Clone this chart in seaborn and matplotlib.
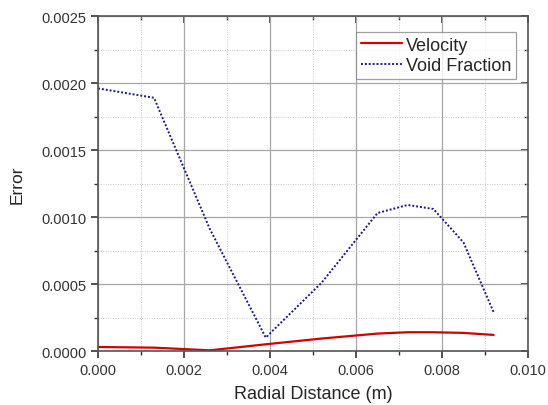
import pandas as pd
import matplotlib.pyplot as plt
import seaborn as sns
from matplotlib.ticker import MultipleLocator, FormatStrFormatter

# Values
radial_distance = [0.0, 0.0013, 0.0026, 0.0039, 0.0052, 0.0065, 0.0072, 0.0078, 0.0085, 0.0092]
velocity_error = [0.00003, 0.000025, 0.000005, 0.00005, 0.000093, 0.00013, 0.00014, 0.00014, 0.000135, 0.00012]
void_fraction_error = [0.00196, 0.00189, 0.00091, 0.0001, 0.00051, 0.00103, 0.00109, 0.00106, 0.00081, 0.00029]

df = pd.DataFrame({'x': radial_distance, 'vel': velocity_error, 'void': void_fraction_error})

sns.set_style('ticks')
plt.rcParams['font.family'] = ['Liberation Sans', 'DejaVu Sans']

fig, ax = plt.subplots(figsize=(5.48, 4.06), dpi=100)
fig.subplots_adjust(left=0.179, right=0.9635, bottom=0.133, top=0.958)

sns.lineplot(data=df, x='x', y='vel', ax=ax, color='#d40000', linewidth=1.6, label='Velocity')
sns.lineplot(data=df, x='x', y='void', ax=ax, color='#1a1a8c', linewidth=1.4,
             linestyle=(0, (1, 1)), label='Void Fraction')

ax.set_xlim(0, 0.010)
ax.set_ylim(0, 0.0025)
ax.xaxis.set_major_locator(MultipleLocator(0.002))
ax.xaxis.set_minor_locator(MultipleLocator(0.001))
ax.yaxis.set_major_locator(MultipleLocator(0.0005))
ax.yaxis.set_minor_locator(MultipleLocator(0.00025))
ax.xaxis.set_major_formatter(FormatStrFormatter('%.3f'))
ax.yaxis.set_major_formatter(FormatStrFormatter('%.4f'))

ax.grid(which='major', color='#a6a6a6', linewidth=0.9, linestyle='-')
ax.grid(which='minor', color='#c8c8c8', linewidth=0.7, linestyle=(0, (1, 1.5)))
ax.set_axisbelow(True)

for s in ax.spines.values():
    s.set_color('#555555')
    s.set_linewidth(1.2)

ax.tick_params(which='both', direction='out', colors='#333333', labelsize=10.5)
ax.tick_params(which='major', length=5, width=1.2)
ax.tick_params(which='minor', length=3, width=1.0)

# ticks on the top and right edges point inward
sec_x = ax.secondary_xaxis('top')
sec_x.xaxis.set_major_locator(MultipleLocator(0.002))
sec_x.xaxis.set_minor_locator(MultipleLocator(0.001))
sec_x.tick_params(which='major', direction='in', length=5, width=1.2, colors='#333333')
sec_x.tick_params(which='minor', direction='in', length=3, width=1.0)
sec_x.set_xticklabels([])
sec_y = ax.secondary_yaxis('right')
sec_y.yaxis.set_major_locator(MultipleLocator(0.0005))
sec_y.yaxis.set_minor_locator(MultipleLocator(0.00025))
sec_y.tick_params(which='major', direction='in', length=5, width=1.2, colors='#333333')
sec_y.tick_params(which='minor', direction='in', length=3, width=1.0)
sec_y.set_yticklabels([])
for sec in (sec_x, sec_y):
    for s in sec.spines.values():
        s.set_visible(False)

ax.set_xlabel('Radial Distance (m)', fontsize=13, labelpad=6)
ax.set_ylabel('Error', fontsize=12.5, labelpad=12)

leg = ax.legend(loc='upper right', bbox_to_anchor=(0.972, 0.952), fontsize=13,
                frameon=True, fancybox=False, handlelength=2.3, handletextpad=0.2,
                borderpad=0.25, labelspacing=0.2, borderaxespad=0)
leg.get_frame().set_edgecolor('#888888')
leg.get_frame().set_linewidth(0.9)

plt.savefig('out.png', dpi=100)
plt.close()
